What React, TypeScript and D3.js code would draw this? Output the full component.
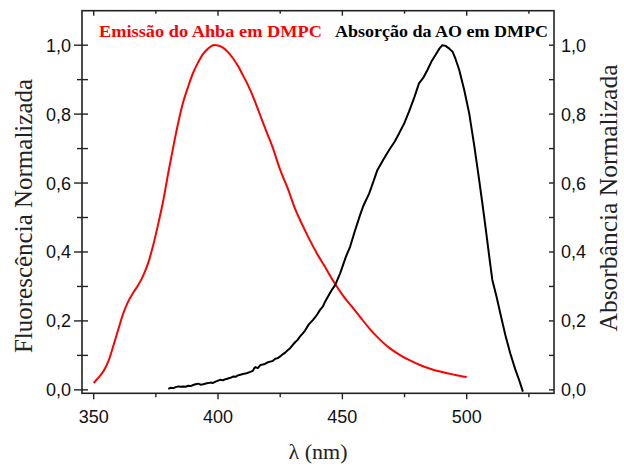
import React from "react";
import * as d3 from "d3";

// Emission of Ahba in DMPC (red)
const emissionNm = [350, 352, 354, 356, 358, 360, 362, 364, 366, 368, 370, 372, 374, 376, 378, 380, 382, 384, 386, 388, 390, 392, 394, 396, 398, 400, 402, 404, 406, 408, 410, 412, 414, 416, 418, 420, 422, 425, 428, 431, 434, 437, 440, 443, 446.4, 450.4, 454, 457.1, 461, 465.2, 469, 473.2, 477, 481.2, 485, 489.3, 495, 500];
const emissionVal = [0.02, 0.036, 0.055, 0.085, 0.13, 0.178, 0.224, 0.258, 0.283, 0.305, 0.333, 0.37, 0.422, 0.483, 0.55, 0.63, 0.705, 0.775, 0.835, 0.88, 0.92, 0.95, 0.975, 0.99, 1.0, 0.999, 0.993, 0.98, 0.962, 0.94, 0.913, 0.885, 0.852, 0.815, 0.777, 0.74, 0.703, 0.638, 0.585, 0.525, 0.477, 0.433, 0.393, 0.357, 0.315, 0.272, 0.24, 0.212, 0.177, 0.145, 0.121, 0.101, 0.086, 0.072, 0.062, 0.053, 0.044, 0.037];

// Absorption of AO in DMPC (black)
const absorptionNm = [380, 381, 382, 383, 384, 385, 386, 387, 388, 389, 390, 391, 392, 393, 394, 395.5, 397, 398, 399, 400.8, 402, 403, 404, 405, 406.2, 407, 408, 409, 410, 411.5, 413, 414, 414.5, 415, 416, 417, 418.5, 420, 421, 422, 423, 424, 425, 426, 427, 428, 429, 430, 431, 432, 433, 434, 435, 436.5, 438.2, 439, 440, 441, 442.2, 443, 444, 445.5, 447.1, 449.1, 451.4, 453.1, 455, 457.1, 458.5, 460.8, 462.5, 464.1, 466.5, 468.8, 471, 472.8, 475, 476.8, 479, 480.8, 482.5, 484.2, 486, 487.5, 489, 490.2, 491.5, 493, 494.3, 495.5, 497, 499, 501, 503, 505, 506.5, 507.7, 509, 510.3, 512, 513.5, 515.5, 517.5, 519.5, 521, 522.6];
const absorptionVal = [0.003, 0.006, 0.005, 0.008, 0.01, 0.009, 0.01, 0.009, 0.012, 0.011, 0.014, 0.016, 0.018, 0.015, 0.016, 0.019, 0.021, 0.02, 0.024, 0.029, 0.028, 0.031, 0.033, 0.035, 0.039, 0.038, 0.042, 0.044, 0.046, 0.048, 0.052, 0.055, 0.062, 0.066, 0.063, 0.072, 0.074, 0.08, 0.082, 0.084, 0.09, 0.092, 0.097, 0.103, 0.108, 0.115, 0.121, 0.13, 0.138, 0.145, 0.155, 0.163, 0.172, 0.19, 0.203, 0.21, 0.22, 0.232, 0.242, 0.255, 0.268, 0.287, 0.304, 0.338, 0.386, 0.415, 0.46, 0.507, 0.535, 0.57, 0.605, 0.638, 0.668, 0.696, 0.72, 0.744, 0.775, 0.807, 0.85, 0.889, 0.905, 0.928, 0.955, 0.972, 0.99, 1.0, 0.998, 0.99, 0.981, 0.96, 0.928, 0.87, 0.802, 0.71, 0.609, 0.53, 0.464, 0.39, 0.319, 0.27, 0.222, 0.16, 0.106, 0.06, 0.03, -0.005];

const xMajorTicks = [350, 400, 450, 500];
const xMinorTicks = [375, 425, 475, 525];
const yMajorTicks = [0, 0.2, 0.4, 0.6, 0.8, 1.0];
const yMinorTicks = [0.1, 0.3, 0.5, 0.7, 0.9];

const titleLeft = "Fluorescência Normalizada";
const titleRight = "Absorbância Normalizada";
const titleX = "λ (nm)";
const legendEmission = "Emissão do Ahba em DMPC";
const legendAbsorption = "Absorção da AO em DMPC";

const W = 624;
const H = 466;
const L = 82, R = 554, T = 10.7, B = 393.3;

export default function App() {
  const x = d3.scaleLinear().domain([345.3, 535.1]).range([L, R]);
  const y = d3.scaleLinear().domain([-0.01, 1.1]).range([B, T]);
  const fmt = (v: number) => v.toFixed(1).replace(".", ",");

  const emission = emissionNm.map((n, i) => [n, emissionVal[i]] as [number, number]);
  const absorption = absorptionNm.map((n, i) => [n, absorptionVal[i]] as [number, number]);

  const redLine = d3.line<[number, number]>().x(d => x(d[0])).y(d => y(d[1])).curve(d3.curveCatmullRom);
  const blackLine = d3.line<[number, number]>().x(d => x(d[0])).y(d => y(d[1])).curve(d3.curveLinear);

  const axisColor = "#222";
  const tickFont = "'Liberation Sans', Arial, sans-serif";
  const serif = "'Liberation Serif', 'Times New Roman', serif";

  return (
    <svg width={W} height={H} style={{ position: "absolute", left: 0, top: 0, background: "#fff" }}>
      <rect x={0} y={0} width={W} height={H} fill="#fff" />
      {/* curves */}
      <path d={redLine(emission) || ""} fill="none" stroke="#ff0000" strokeWidth={2} strokeLinejoin="round" />
      <path d={blackLine(absorption) || ""} fill="none" stroke="#000" strokeWidth={2} strokeLinejoin="round" />

      {/* frame */}
      <rect x={L} y={T} width={R - L} height={B - T} fill="none" stroke={axisColor} strokeWidth={1.6} />

      {/* bottom ticks (out) and top ticks (in) */}
      {xMajorTicks.map(t => (
        <g key={"xM" + t}>
          <line x1={x(t)} x2={x(t)} y1={B} y2={B + 6} stroke={axisColor} strokeWidth={1.4} />
          <line x1={x(t)} x2={x(t)} y1={T} y2={T + 5} stroke={axisColor} strokeWidth={1.4} />
          <text x={x(t)} y={423} textAnchor="middle" fontFamily={tickFont} fontSize={18} fill="#111">{t}</text>
        </g>
      ))}
      {xMinorTicks.map(t => (
        <g key={"xm" + t}>
          <line x1={x(t)} x2={x(t)} y1={B} y2={B + 4} stroke={axisColor} strokeWidth={1.4} />
          <line x1={x(t)} x2={x(t)} y1={T} y2={T + 3} stroke={axisColor} strokeWidth={1.4} />
        </g>
      ))}

      {/* left ticks (both), right ticks (in) */}
      {yMajorTicks.map(t => (
        <g key={"yM" + t}>
          <line x1={L - 8} x2={L + 6} y1={y(t)} y2={y(t)} stroke={axisColor} strokeWidth={1.4} />
          <line x1={R - 5} x2={R} y1={y(t)} y2={y(t)} stroke={axisColor} strokeWidth={1.4} />
          <text x={71} y={y(t) + 6.5} textAnchor="end" fontFamily={tickFont} fontSize={18} fill="#111">{fmt(t)}</text>
          <text x={561} y={y(t) + 6.5} textAnchor="start" fontFamily={tickFont} fontSize={18} fill="#111">{fmt(t)}</text>
        </g>
      ))}
      {yMinorTicks.map(t => (
        <g key={"ym" + t}>
          <line x1={L - 5} x2={L + 6} y1={y(t)} y2={y(t)} stroke={axisColor} strokeWidth={1.4} />
          <line x1={R - 5} x2={R} y1={y(t)} y2={y(t)} stroke={axisColor} strokeWidth={1.4} />
        </g>
      ))}

      {/* legends */}
      <text x={99} y={37} fontFamily={serif} fontWeight="bold" fontSize={17.5} fill="#ff0000" textLength={223} lengthAdjust="spacingAndGlyphs">{legendEmission}</text>
      <text x={335} y={37} fontFamily={serif} fontWeight="bold" fontSize={17.5} fill="#000" textLength={213} lengthAdjust="spacingAndGlyphs">{legendAbsorption}</text>

      {/* axis titles */}
      <text x={318} y={459} textAnchor="middle" fontFamily={serif} fontSize={22} fill="#222">{titleX}</text>
      <text transform={`translate(32,216) rotate(-90)`} textAnchor="middle" fontFamily={serif} fontSize={25} fill="#222">{titleLeft}</text>
      <text transform={`translate(617,198) rotate(-90)`} textAnchor="middle" fontFamily={serif} fontSize={25.5} fill="#222">{titleRight}</text>
    </svg>
  );
}
